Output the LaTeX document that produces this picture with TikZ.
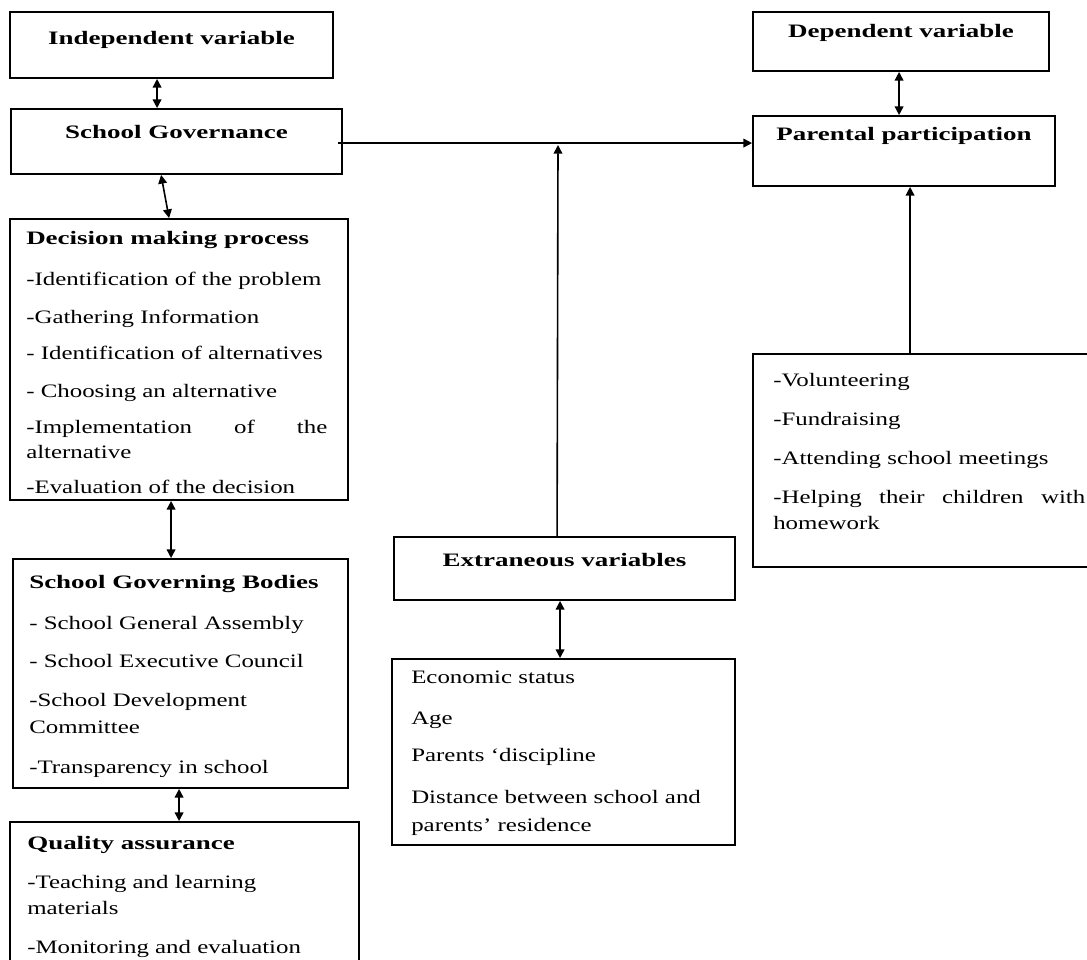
\documentclass[tikz,border=0pt]{standalone}
\usepackage{fontspec}
\setmainfont{Liberation Serif}[FakeStretch=1.31]
\newfontfamily\titlefont{Liberation Serif}[FakeStretch=1.42]
\usetikzlibrary{arrows.meta,fit,calc}
\tikzset{
  box/.style={draw, line width=1.4pt, inner sep=0pt, fill=none},
  txt/.style={anchor=base west, inner sep=0pt, font=\fontsize{14.25}{18}\selectfont},
  hd/.style={anchor=base west, inner sep=0pt, font=\titlefont\bfseries\fontsize{14.25}{18}\selectfont},
  ttl/.style={anchor=base, inner sep=0pt, font=\titlefont\bfseries\fontsize{14.25}{18}\selectfont},
  tip/.tip={Triangle[length=6.5pt,width=6.5pt]},
  dbl/.style={tip-tip, line width=1.2pt},
  sgl/.style={-tip, line width=1.2pt}
}
\begin{document}
\begin{tikzpicture}[x=0.75pt,y=-0.75pt]
\useasboundingbox (0,0) rectangle (1087,959);
\fill[white] (0,0) rectangle (1087,959);
\clip (0,0) rectangle (1087,959);

% boxes
\node[box, fit={(10,12) (333,78)}] (indep) {};
\node[box, fit={(11,109) (342,174)}] (gov) {};
\node[box, fit={(10,219) (348,500)}] (dec) {};
\node[box, fit={(13,559) (348,788)}] (sgb) {};
\node[box, fit={(10,822) (359,975)}] (qa) {};
\node[box, fit={(753,12) (1049,71)}] (dep) {};
\node[box, fit={(753,116) (1055,186)}] (par) {};
\node[box, fit={(753,354) (1095,567)}] (vol) {};
\node[box, fit={(394,537) (735,600)}] (ext) {};
\node[box, fit={(392,659) (735,845)}] (eco) {};

% titles
\node[ttl] (tindep) at (171.5,45) {Independent variable};
\node[ttl] (tgov) at (176.5,139) {School Governance};
\node[ttl] (tdep) at (901,38) {Dependent variable};
\node[ttl] (tpar) at (904,141) {Parental participation};
\node[ttl] (text) at (564.5,566) {Extraneous variables};

% decision making
\node[hd] (d0) at (26,244) {Decision making process};
\node[txt] (d1) at (26,285) {-Identification of the problem};
\node[txt] (d2) at (26,323) {-Gathering Information};
\node[txt] (d3) at (26,359) {- Identification of alternatives};
\node[txt] (d4) at (26,397) {- Choosing an alternative};
\node[txt] (d5) at (26,433) {\makebox[225.75pt][s]{-Implementation of the}};
\node[txt] (d6) at (26,458) {alternative};
\node[txt] (d7) at (26,493) {-Evaluation of the decision};

% governing bodies
\node[hd] (s0) at (29,588) {School Governing Bodies};
\node[txt] (s1) at (29,629) {- School General Assembly};
\node[txt] (s2) at (29,667) {- School Executive Council};
\node[txt] (s3) at (29,706) {-School Development};
\node[txt] (s4) at (29,733) {Committee};
\node[txt] (s5) at (29,773) {-Transparency in school};

% quality assurance
\node[hd] (q0) at (27,849) {Quality assurance};
\node[txt] (q1) at (27,888) {-Teaching and learning};
\node[txt] (q2) at (27,914) {materials};
\node[txt] (q3) at (27,953) {-Monitoring and evaluation};

% extraneous list
\node[txt] (e1) at (411,683) {Economic status};
\node[txt] (e2) at (411,724) {Age};
\node[txt] (e3) at (411,761) {Parents ‘discipline};
\node[txt] (e4) at (411,803) {Distance between school and};
\node[txt] (e5) at (411,831) {parents’ residence};

% participation list
\node[txt] (v1) at (773,386) {-Volunteering};
\node[txt] (v2) at (773,425) {-Fundraising};
\node[txt] (v3) at (773,464) {-Attending school meetings};
\node[txt] (v4) at (773,503) {\makebox[234pt][s]{-Helping their children with}};
\node[txt] (v5) at (773,529) {homework};

% connectors
\draw[dbl] ($(indep.south west)+(148,0)$) -- ($(gov.north west)+(147,0)$);
\draw[dbl] ($(gov.south west)+(151,0)$) -- ($(dec.north west)+(160,0)$);
\draw[dbl] ($(dec.south west)+(162,0)$) -- ($(sgb.north west)+(159,0)$);
\draw[dbl] ($(sgb.south west)+(167,0)$) -- ($(qa.north west)+(170,0)$);
\draw[dbl] ($(dep.south west)+(147,0)$) -- ($(par.north west)+(147,0)$);
\draw[sgl] ($(gov.north east)+(-5,35)$) -- ($(par.north west)+(0,28)$);
\coordinate (junc) at (558,145);
\draw[sgl] ($(ext.north west)+(164,0)$) -- (junc);
\draw[dbl] ($(ext.south west)+(167,0)$) -- ($(eco.north west)+(169,0)$);
\draw[sgl] ($(vol.north west)+(158,0)$) -- ($(par.south west)+(158,0)$);
\end{tikzpicture}
\end{document}
